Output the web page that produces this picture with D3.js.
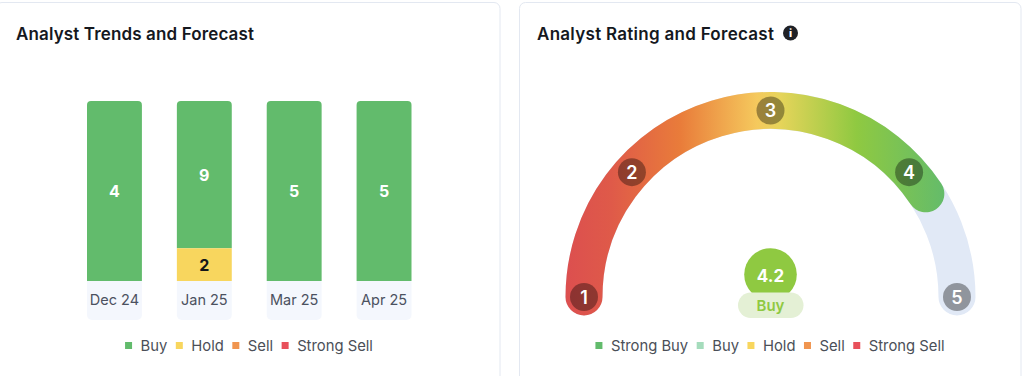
<!DOCTYPE html>
<html>
<head>
<meta charset="utf-8">
<script src="https://cdn.jsdelivr.net/npm/d3@7"></script>
<style>
  html, body { margin: 0; padding: 0; background: #fff; overflow: hidden; }
  text { font-family: Inter, "Noto Sans", sans-serif; }
</style>
</head>
<body>
<div id="chart"></div>
<script>
// chart values
const months = ["Dec 24", "Jan 25", "Mar 25", "Apr 25"];
const buyCounts = [4, 9, 5, 5];
const holdCounts = [0, 2, 0, 0];
const sellCounts = [0, 0, 0, 0];
const strongSellCounts = [0, 0, 0, 0];
const trendLegend = ["Buy", "Hold", "Sell", "Strong Sell"];
const gaugeLegend = ["Strong Buy", "Buy", "Hold", "Sell", "Strong Sell"];
const ratings = [1, 2, 3, 4, 5];
const score = 4.2;
const scoreLabel = "Buy";

const trendColors = ["#62bb6c", "#f8d65e", "#f0954f", "#e8505b"];
const gaugeLegendColors = ["#62bb6c", "#a5dcbc", "#f8d65e", "#f0954f", "#e8505b"];

const svg = d3.select("#chart")
  .append("svg")
  .attr("width", 1024)
  .attr("height", 376);

// cards
svg.selectAll(".card")
  .data([[-4, 504], [519.5, 501.5]])
  .join("rect")
  .attr("class", "card")
  .attr("x", d => d[0])
  .attr("y", 2.5)
  .attr("width", d => d[1])
  .attr("height", 400)
  .attr("rx", 6)
  .attr("fill", "#fff")
  .attr("stroke", "#e3e8f1");

function title(x, txt, len) {
  return svg.append("text")
    .attr("x", x)
    .attr("y", 39.5)
    .attr("font-size", 17)
    .attr("font-weight", 600)
    .attr("textLength", len)
    .attr("lengthAdjust", "spacing")
    .attr("fill", "#15181e")
    .text(txt);
}
title(16, "Analyst Trends and Forecast", 238);
title(537, "Analyst Rating and Forecast", 237);

// info icon
svg.append("circle").attr("cx", 790.5).attr("cy", 33).attr("r", 7.5).attr("fill", "#1f2126");
svg.append("text")
  .attr("x", 790.5)
  .attr("y", 37)
  .attr("text-anchor", "middle")
  .attr("font-size", 11)
  .attr("font-weight", 800)
  .attr("fill", "#fff")
  .text("i");

// squares + labels, centred on cx
function legend(cx, names, cols) {
  const g = svg.append("g");
  const gap = 8.5;
  let pos = 0;
  names.forEach((name, i) => {
    const item = g.append("g").attr("transform", `translate(${pos},0)`);
    item.append("rect")
      .attr("y", 342)
      .attr("width", 7)
      .attr("height", 7)
      .attr("fill", cols[i]);
    const t = item.append("text")
      .attr("x", 15.5)
      .attr("y", 350.5)
      .attr("font-size", 14.8)
      .attr("fill", "#4b4f58")
      .text(name);
    pos += 15.5 + t.node().getComputedTextLength() + gap;
  });
  g.attr("transform", `translate(${cx - (pos - gap) / 2},0)`);
}
legend(249, trendLegend, trendColors);
legend(770, gaugeLegend, gaugeLegendColors);

// ---- stacked bars ----
const rows = months.map((m, i) => ({
  month: m,
  Buy: buyCounts[i],
  Hold: holdCounts[i],
  Sell: sellCounts[i],
  "Strong Sell": strongSellCounts[i]
}));

const x = d3.scaleBand()
  .domain(months)
  .range([87, 411.5])
  .paddingInner(0.389)
  .paddingOuter(0);

const y = d3.scaleLinear()
  .domain([0, 1])
  .range([281, 101]);

// buy sits on top of the stack, strong sell at the bottom
const series = d3.stack()
  .keys(trendLegend)
  .order(d3.stackOrderReverse)
  .offset(d3.stackOffsetExpand)(rows);

// rectangle with some rounded corners
function box(x0, y0, w, h, rTop, rBottom) {
  const p = d3.path();
  p.moveTo(x0 + rTop, y0);
  p.lineTo(x0 + w - rTop, y0);
  p.arcTo(x0 + w, y0, x0 + w, y0 + rTop, rTop);
  p.lineTo(x0 + w, y0 + h - rBottom);
  p.arcTo(x0 + w, y0 + h, x0 + w - rBottom, y0 + h, rBottom);
  p.lineTo(x0 + rBottom, y0 + h);
  p.arcTo(x0, y0 + h, x0, y0 + h - rBottom, rBottom);
  p.lineTo(x0, y0 + rTop);
  p.arcTo(x0, y0, x0 + rTop, y0, rTop);
  p.closePath();
  return p.toString();
}

// label backgrounds under the bars
svg.selectAll(".monthBg")
  .data(months)
  .join("path")
  .attr("class", "monthBg")
  .attr("d", d => box(x(d), y(0), x.bandwidth(), 39, 0, 5))
  .attr("fill", "#f4f7fd");

series.forEach((s, si) => {
  const col = trendColors[trendLegend.indexOf(s.key)];
  const segs = s.filter(d => d[1] > d[0]);
  svg.selectAll(".seg" + si)
    .data(segs)
    .join("path")
    .attr("class", "seg" + si)
    .attr("d", d => box(x(d.data.month), y(d[1]), x.bandwidth(), y(d[0]) - y(d[1]), d[1] === 1 ? 4 : 0, 0))
    .attr("fill", col);
  svg.selectAll(".segLabel" + si)
    .data(segs)
    .join("text")
    .attr("class", "segLabel" + si)
    .attr("x", d => x(d.data.month) + x.bandwidth() / 2)
    .attr("y", d => (y(d[0]) + y(d[1])) / 2 + 6)
    .attr("text-anchor", "middle")
    .attr("font-size", 16)
    .attr("font-weight", 700)
    .attr("fill", s.key === "Hold" ? "#14161a" : "#fff")
    .text(d => d.data[s.key]);
});

const xAxis = svg.append("g")
  .attr("transform", `translate(0,${y(0)})`)
  .call(d3.axisBottom(x).tickSize(0).tickPadding(14));
xAxis.select(".domain").remove();
xAxis.selectAll("text")
  .attr("font-size", 14.5)
  .attr("font-family", "Inter, sans-serif")
  .attr("fill", "#4b5160");

// ---- gauge ----
const gaugeX = 770.5, gaugeY = 297, gaugeR = 186.5, gaugeW = 37;

const angle = d3.scaleLinear()
  .domain(ratings)
  .range([-180, -138, -90, -42, 0].map(d => d * Math.PI / 180));

const gauge = svg.append("g").attr("transform", `translate(${gaugeX},${gaugeY})`);

const defs = svg.append("defs");
const grad = defs.append("linearGradient")
  .attr("id", "gaugeGrad")
  .attr("gradientUnits", "userSpaceOnUse")
  .attr("x1", -205).attr("y1", 0)
  .attr("x2", 178).attr("y2", 0);
grad.selectAll("stop")
  .data([
    [0, "#dc4f4f"], [0.12, "#df5a49"], [0.3, "#e97c3a"], [0.5, "#f5c95d"],
    [0.56, "#e6d45a"], [0.76, "#8fc941"], [1, "#62bb6c"]
  ])
  .join("stop")
  .attr("offset", d => d[0])
  .attr("stop-color", d => d[1]);

function centreLine(from, to) {
  const p = d3.path();
  p.arc(0, 0, gaugeR, angle(from), angle(to));
  return p.toString();
}

gauge.append("path")
  .attr("d", centreLine(1, 5))
  .attr("fill", "none")
  .attr("stroke", "#e1e9f6")
  .attr("stroke-width", gaugeW)
  .attr("stroke-linecap", "round");

gauge.append("path")
  .attr("d", centreLine(1, score))
  .attr("fill", "none")
  .attr("stroke", "url(#gaugeGrad)")
  .attr("stroke-width", gaugeW)
  .attr("stroke-linecap", "round");

const marks = gauge.selectAll(".mark")
  .data(ratings)
  .join("g")
  .attr("class", "mark")
  .attr("transform", d => `translate(${gaugeR * Math.cos(angle(d))},${gaugeR * Math.sin(angle(d))})`);
marks.append("circle")
  .attr("r", 14)
  .attr("fill", "#000")
  .attr("fill-opacity", 0.36);
marks.append("text")
  .attr("y", 6.5)
  .attr("text-anchor", "middle")
  .attr("font-size", 18)
  .attr("font-weight", 600)
  .attr("fill", "#fff")
  .text(d => d);

// score badge
svg.append("circle")
  .attr("cx", gaugeX).attr("cy", 274.5).attr("r", 26.3)
  .attr("fill", "#8fc941");
svg.append("text")
  .attr("x", gaugeX).attr("y", 281.5)
  .attr("text-anchor", "middle")
  .attr("font-size", 17)
  .attr("font-weight", 700)
  .attr("fill", "#fff")
  .text(score);
svg.append("rect")
  .attr("x", 738).attr("y", 292.5)
  .attr("width", 65.5).attr("height", 25.5)
  .attr("rx", 12.75)
  .attr("fill", "#e4f0d5");
svg.append("text")
  .attr("x", gaugeX).attr("y", 311)
  .attr("text-anchor", "middle")
  .attr("font-size", 15)
  .attr("font-weight", 600)
  .attr("fill", "#8fc941")
  .text(scoreLabel);
</script>
</body>
</html>
